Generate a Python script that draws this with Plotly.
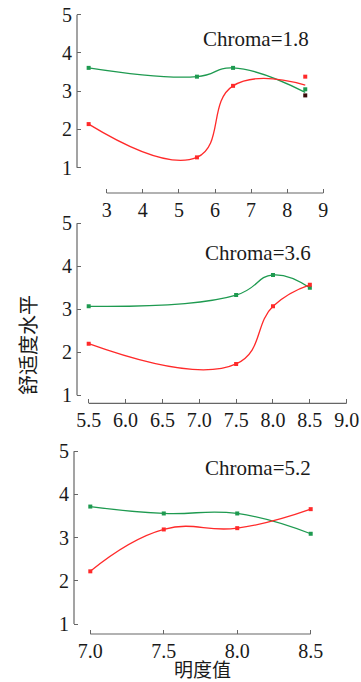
import plotly.graph_objects as go

W, H = 361, 682

# ---------------- data ----------------
# Panel 1 (Chroma=1.8)
p1_x = [2.5, 5.5, 6.5, 8.5]
p1_green = [3.61, 3.38, 3.61, 2.97]
p1_red = [2.14, 1.27, 3.14, 3.16]
p1_dot_x = [8.5, 8.5, 8.5]
p1_dot_y = [3.38, 3.05, 2.89]
p1_xticks = [3, 4, 5, 6, 7, 8, 9]

# Panel 2 (Chroma=3.6)
p2_x = [5.5, 7.5, 8.0, 8.5]
p2_green = [3.07, 3.33, 3.80, 3.50]
p2_red = [2.20, 1.73, 3.07, 3.57]
p2_xticks = [5.5, 6.0, 6.5, 7.0, 7.5, 8.0, 8.5, 9.0]

# Panel 3 (Chroma=5.2)
p3_x = [7.0, 7.5, 8.0, 8.5]
p3_green = [3.72, 3.56, 3.56, 3.09]
p3_red = [2.22, 3.19, 3.22, 3.66]
p3_xticks = [7.0, 7.5, 8.0, 8.5]

yticks = [1, 2, 3, 4, 5]
titles = ["Chroma=1.8", "Chroma=3.6", "Chroma=5.2"]
x_title = "明度值"
y_title = "舒适度水平"

RED = "#ff2a2a"
GREEN = "#1e9a50"
DARK = "#3a0a0a"
AXIS = "#666666"
TXT = "#1a1a1a"
SERIF = "Liberation Serif"


def rng(a, pa, b, pb, d0, d1):
    k = (b - a) / (pb - pa)
    return [a + (d0 - pa) * k, a + (d1 - pa) * k]


fig = go.Figure()

panels = [
    dict(xd=(77, 327), xcal=(3, 106.7, 9, 323.3),
         yd=(193, 12), ycal=(1, 167.7, 5, 14.7),
         xs=p1_x, g=p1_green, r=p1_red, xt=p1_xticks, xt_txt=[str(v) for v in p1_xticks],
         axline=(3, 9), title_px=(311, 39)),
    dict(xd=(77, 350), xcal=(5.5, 88.7, 9.0, 346.7),
         yd=(403.3, 220), ycal=(1, 395.3, 5, 223.3),
         xs=p2_x, g=p2_green, r=p2_red, xt=p2_xticks, xt_txt=[f"{v:.1f}" for v in p2_xticks],
         axline=(5.5, 9.0), title_px=(313, 253)),
    dict(xd=(74, 314), xcal=(7.0, 90.3, 8.5, 310.7),
         yd=(634, 448), ycal=(1, 624, 5, 451.3),
         xs=p3_x, g=p3_green, r=p3_red, xt=p3_xticks, xt_txt=[f"{v:.1f}" for v in p3_xticks],
         axline=(7.0, 8.5), title_px=(313, 468)),
]

layout = {}
for i, p in enumerate(panels, start=1):
    xa = f"x{i}" if i > 1 else "x"
    ya = f"y{i}" if i > 1 else "y"
    xkey = f"xaxis{i}" if i > 1 else "xaxis"
    ykey = f"yaxis{i}" if i > 1 else "yaxis"
    xr = rng(p["xcal"][0], p["xcal"][1], p["xcal"][2], p["xcal"][3], p["xd"][0], p["xd"][1])
    yr = rng(p["ycal"][0], p["ycal"][1], p["ycal"][2], p["ycal"][3], p["yd"][0], p["yd"][1])
    layout[xkey] = dict(
        domain=[p["xd"][0] / W, p["xd"][1] / W], range=xr, anchor=ya, automargin=False,
        showline=False, showgrid=False, zeroline=False,
        tickmode="array", tickvals=p["xt"], ticktext=p["xt_txt"],
        ticks="inside", ticklen=4, tickcolor=AXIS, tickwidth=1,
        tickfont=dict(family=SERIF, size=20, color=TXT), ticklabelstandoff=3,
    )
    layout[ykey] = dict(
        domain=[1 - p["yd"][0] / H, 1 - p["yd"][1] / H], range=yr, anchor=xa, automargin=False,
        showline=False, showgrid=False, zeroline=False,
        tickmode="array", tickvals=yticks, ticktext=[str(v) for v in yticks],
        ticks="inside", ticklen=4, tickcolor=AXIS, tickwidth=1,
        tickfont=dict(family=SERIF, size=20, color=TXT), ticklabelstandoff=4,
    )
    fig.add_trace(go.Scatter(x=p["xs"], y=p["g"], mode="lines", xaxis=xa, yaxis=ya,
                             line=dict(color=GREEN, width=1.3, shape="spline", smoothing=1.3),
                             showlegend=False, hoverinfo="skip"))
    fig.add_trace(go.Scatter(x=p["xs"], y=p["r"], mode="lines", xaxis=xa, yaxis=ya,
                             line=dict(color=RED, width=1.3, shape="spline", smoothing=1.3),
                             showlegend=False, hoverinfo="skip"))
    if i == 1:
        mx = p["xs"][:3]
        fig.add_trace(go.Scatter(x=mx, y=p["g"][:3], mode="markers", xaxis=xa, yaxis=ya,
                                 marker=dict(color=GREEN, size=4, symbol="square"), showlegend=False))
        fig.add_trace(go.Scatter(x=mx, y=p["r"][:3], mode="markers", xaxis=xa, yaxis=ya,
                                 marker=dict(color=RED, size=4, symbol="square"), showlegend=False))
        fig.add_trace(go.Scatter(x=p1_dot_x, y=p1_dot_y, mode="markers", xaxis=xa, yaxis=ya,
                                 marker=dict(color=[RED, GREEN, DARK], size=4, symbol="square"),
                                 showlegend=False))
    else:
        fig.add_trace(go.Scatter(x=p["xs"], y=p["g"], mode="markers", xaxis=xa, yaxis=ya,
                                 marker=dict(color=GREEN, size=4, symbol="square"), showlegend=False))
        fig.add_trace(go.Scatter(x=p["xs"], y=p["r"], mode="markers", xaxis=xa, yaxis=ya,
                                 marker=dict(color=RED, size=4, symbol="square"), showlegend=False))
    fig.add_shape(type="line", xref=xa, yref=f"{ya} domain", x0=p["axline"][0], x1=p["axline"][1],
                  y0=0, y1=0, line=dict(color=AXIS, width=1.2))
    fig.add_shape(type="line", xref=f"{xa} domain", yref=ya, x0=0, x1=0, y0=1, y1=5,
                  line=dict(color=AXIS, width=1.2))
    fig.add_annotation(text=titles[i - 1], xref="paper", yref="paper",
                       x=p["title_px"][0] / W, y=1 - p["title_px"][1] / H,
                       xanchor="right", yanchor="middle", showarrow=False,
                       font=dict(family=SERIF, size=21, color=TXT))

fig.add_annotation(text=x_title, xref="paper", yref="paper", x=202 / W, y=1 - 668 / H,
                   xanchor="center", yanchor="middle", showarrow=False,
                   font=dict(family="Noto Sans CJK SC", size=19, color=TXT))
fig.add_annotation(text=y_title, xref="paper", yref="paper", x=27 / W, y=1 - 345 / H,
                   xanchor="center", yanchor="middle", showarrow=False, textangle=-90,
                   font=dict(family="Noto Sans CJK SC", size=20, color=TXT))

fig.update_layout(width=W, height=H, margin=dict(l=0, r=0, t=0, b=0),
                  paper_bgcolor="white", plot_bgcolor="white", **layout)

fig.write_html("out.html", config={"displayModeBar": False},
               post_script="document.body.style.margin='0';document.body.style.overflow='hidden';")
